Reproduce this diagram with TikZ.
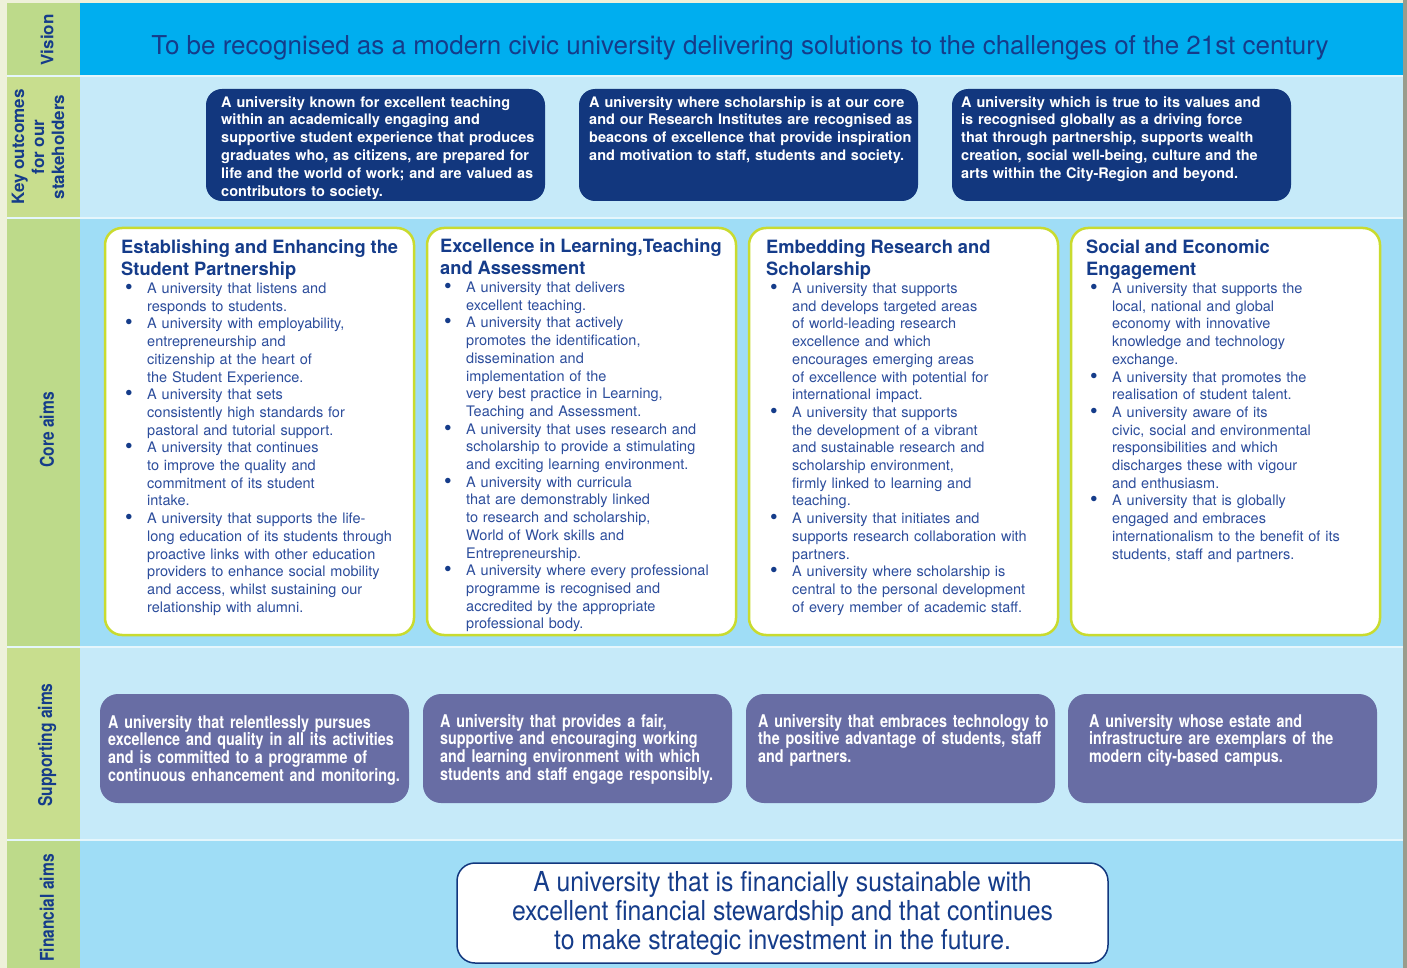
\documentclass[tikz,border=0pt]{standalone}
\usepackage{fontspec}
\setmainfont{TeX Gyre Heros}
\newfontfamily\condensed{TeX Gyre Heros}[FakeStretch=0.82]
\newfontfamily\narrow{TeX Gyre Heros}[FakeStretch=0.9]
\usepackage{tikz}
\usetikzlibrary{positioning}

\definecolor{cream}{HTML}{EEF1DA}
\definecolor{sidegreen}{HTML}{BDDA8A}
\definecolor{sidelime}{HTML}{C8DE8E}
\definecolor{visioncyan}{HTML}{00AEEF}
\definecolor{palesky}{HTML}{C6EAF9}
\definecolor{midsky}{HTML}{9FDDF6}
\definecolor{navy}{HTML}{12377E}
\definecolor{slate}{HTML}{686DA4}
\definecolor{lime}{HTML}{C9DB2F}
\definecolor{inkblue}{HTML}{153C8A}
\definecolor{bodyblue}{HTML}{2C4D9C}
\definecolor{edgegray}{HTML}{9A9C8C}

% heading and bullet points inside the core aim boxes
\newcommand{\aimhead}[1]{{\fontsize{18.3}{22}\selectfont\bfseries\color{inkblue}#1\par}}
\newcommand{\aimitem}[1]{\par\hangindent=26pt\hangafter=1\noindent\hspace*{4pt}\makebox[22pt][l]{\raisebox{-1pt}{\scalebox{1.5}{\color{inkblue}\textbullet}}}{\let\\\newline#1}}

\begin{document}
\begin{tikzpicture}[
    x=1pt, y=-1pt,
    side/.style={text=inkblue, font=\fontsize{17}{20}\selectfont\bfseries, rotate=90, align=center, inner sep=0pt},
    sidecond/.style={side, font=\condensed\fontsize{19}{22}\selectfont\bfseries},
    outcome/.style={fill=navy, rounded corners=16pt, minimum width=339pt, minimum height=112pt, anchor=north west, inner sep=0pt, outer sep=0pt},
    outtext/.style={anchor=north west, inner sep=0pt, text=white, align=left, text width=330pt, font=\fontsize{14.5}{17.8}\selectfont\bfseries},
    core/.style={draw=lime, line width=2.5pt, fill=white, rounded corners=17pt, minimum width=309pt, minimum height=407pt, anchor=north west, inner sep=0pt, outer sep=0pt},
    coretext/.style={anchor=north west, inner sep=0pt, text=bodyblue, align=left, text width=292pt, font=\fontsize{14.5}{17.7}\selectfont},
    support/.style={fill=slate, rounded corners=18pt, minimum width=309pt, minimum height=109pt, anchor=north west, inner sep=0pt, outer sep=0pt},
    suptext/.style={anchor=north west, inner sep=0pt, text=white, align=left, text width=300pt, font=\condensed\fontsize{17.5}{17.7}\selectfont\bfseries},
    finance/.style={draw=navy, line width=1.5pt, fill=white, rounded corners=18pt, minimum width=651pt, minimum height=100pt, align=center, text=inkblue, font=\narrow\fontsize{27.5}{29}\selectfont}
]
\useasboundingbox (0,0) rectangle (1407,968);

% page, side column and the five bands
\fill[cream] (0,0) rectangle (1407,968);
\fill[edgegray] (1403,0) rectangle (1407,968);
\fill[white!55!palesky] (7,3) rectangle (1403,968);
\fill[sidegreen] (7,3) rectangle (80,75);
\fill[visioncyan] (80,3) rectangle (1403,75);
\fill[sidelime] (7,77) rectangle (80,217);
\fill[palesky] (80,77) rectangle (1403,217);
\fill[sidegreen] (7,219) rectangle (80,646);
\fill[midsky] (80,219) rectangle (1403,646);
\fill[sidelime] (7,648) rectangle (80,839);
\fill[palesky] (80,648) rectangle (1403,839);
\fill[sidegreen] (7,841) rectangle (80,968);
\fill[midsky] (80,841) rectangle (1403,968);

% row labels
\node[side] (lvision) at (47,40) {Vision};
\node[side] (lkey) at (38,147) {Key outcomes\\for our\\stakeholders};
\node[sidecond] (lcore) at (47,430) {Core aims};
\node[sidecond] (lsupp) at (47,745) {Supporting aims};
\node[sidecond] (lfin) at (47,908) {Financial aims};

% vision
\node[text=inkblue, font=\fontsize{26}{30}\selectfont, anchor=base] (vision) at (740,55) {To be recognised as a modern civic university delivering solutions to the challenges of the 21st century};

% key outcomes
\node[outcome] (out1) at (206,89) {};
\node[outcome, right=34pt of out1] (out2) {};
\node[outcome, right=34pt of out2] (out3) {};
\node[outtext] (out1txt) at ([xshift=15pt, yshift=-7pt]out1.north west) {A university known for excellent teaching\\within an academically engaging and\\supportive student experience that produces\\graduates who, as citizens, are prepared for\\life and the world of work; and are valued as\\contributors to society.};
\node[outtext] (out2txt) at ([xshift=10pt, yshift=-7pt]out2.north west) {A university where scholarship is at our core\\and our Research Institutes are recognised as\\beacons of excellence that provide inspiration\\and motivation to staff, students and society.};
\node[outtext] (out3txt) at ([xshift=9pt, yshift=-7pt]out3.north west) {A university which is true to its values and\\is recognised globally as a driving force\\that through partnership, supports wealth\\creation, social well-being, culture and the\\arts within the City-Region and beyond.};

% core aims
\node[core] (core1) at (105,228) {};
\node[core, right=13pt of core1] (core2) {};
\node[core, right=13pt of core2] (core3) {};
\node[core, right=13pt of core3] (core4) {};
\node[coretext] (core1txt) at ([xshift=16pt, yshift=-12pt]core1.north west) {%
\aimhead{Establishing and Enhancing the\\Student Partnership}
\aimitem{A university that listens and\\responds to students.}
\aimitem{A university with employability,\\entrepreneurship and\\citizenship at the heart of\\the Student Experience.}
\aimitem{A university that sets\\consistently high standards for\\pastoral and tutorial support.}
\aimitem{A university that continues\\to improve the quality and\\commitment of its student\\intake.}
\aimitem{A university that supports the life-\\long education of its students through\\proactive links with other education\\providers to enhance social mobility\\and access, whilst sustaining our\\relationship with alumni.}\par};
\node[coretext] (core2txt) at ([xshift=13pt, yshift=-11pt]core2.north west) {%
\aimhead{Excellence in Learning,Teaching\\and Assessment}
\aimitem{A university that delivers\\excellent teaching.}
\aimitem{A university that actively\\promotes the identification,\\dissemination and\\implementation of the\\very best practice in Learning,\\Teaching and Assessment.}
\aimitem{A university that uses research and\\scholarship to provide a stimulating\\and exciting learning environment.}
\aimitem{A university with curricula\\that are demonstrably linked\\to research and scholarship,\\World of Work skills and\\Entrepreneurship.}
\aimitem{A university where every professional\\programme is recognised and\\accredited by the appropriate\\professional body.}\par};
\node[coretext] (core3txt) at ([xshift=17pt, yshift=-12pt]core3.north west) {%
\aimhead{Embedding Research and\\Scholarship}
\aimitem{A university that supports\\and develops targeted areas\\of world-leading research\\excellence and which\\encourages emerging areas\\of excellence with potential for\\international impact.}
\aimitem{A university that supports\\the development of a vibrant\\and sustainable research and\\scholarship environment,\\firmly linked to learning and\\teaching.}
\aimitem{A university that initiates and\\supports research collaboration with\\partners.}
\aimitem{A university where scholarship is\\central to the personal development\\of every member of academic staff.}\par};
\node[coretext] (core4txt) at ([xshift=15pt, yshift=-12pt]core4.north west) {%
\aimhead{Social and Economic\\Engagement}
\aimitem{A university that supports the\\local, national and global\\economy with innovative\\knowledge and technology\\exchange.}
\aimitem{A university that promotes the\\realisation of student talent.}
\aimitem{A university aware of its\\civic, social and environmental\\responsibilities and which\\discharges these with vigour\\and enthusiasm.}
\aimitem{A university that is globally\\engaged and embraces\\internationalism to the benefit of its\\students, staff and partners.}\par};

% supporting aims
\node[support] (sup1) at (100,694) {};
\node[support, right=14pt of sup1] (sup2) {};
\node[support, right=14pt of sup2] (sup3) {};
\node[support, right=13pt of sup3] (sup4) {};
\node[suptext] (sup1txt) at ([xshift=8pt, yshift=-21pt]sup1.north west) {A university that relentlessly pursues\\excellence and quality in all its activities\\and is committed to a programme of\\continuous enhancement and monitoring.};
\node[suptext] (sup2txt) at ([xshift=17pt, yshift=-20pt]sup2.north west) {A university that provides a fair,\\supportive and encouraging working\\and learning environment with which\\students and staff engage responsibly.};
\node[suptext] (sup3txt) at ([xshift=12pt, yshift=-20pt]sup3.north west) {A university that embraces technology to\\the positive advantage of students, staff\\and partners.};
\node[suptext] (sup4txt) at ([xshift=21pt, yshift=-20pt]sup4.north west) {A university whose estate and\\infrastructure are exemplars of the\\modern city-based campus.};

% financial aim
\node[finance] (fin) at (782.5,913) {A university that is financially sustainable with\\excellent financial stewardship and that continues\\to make strategic investment in the future.};
\end{tikzpicture}
\end{document}
